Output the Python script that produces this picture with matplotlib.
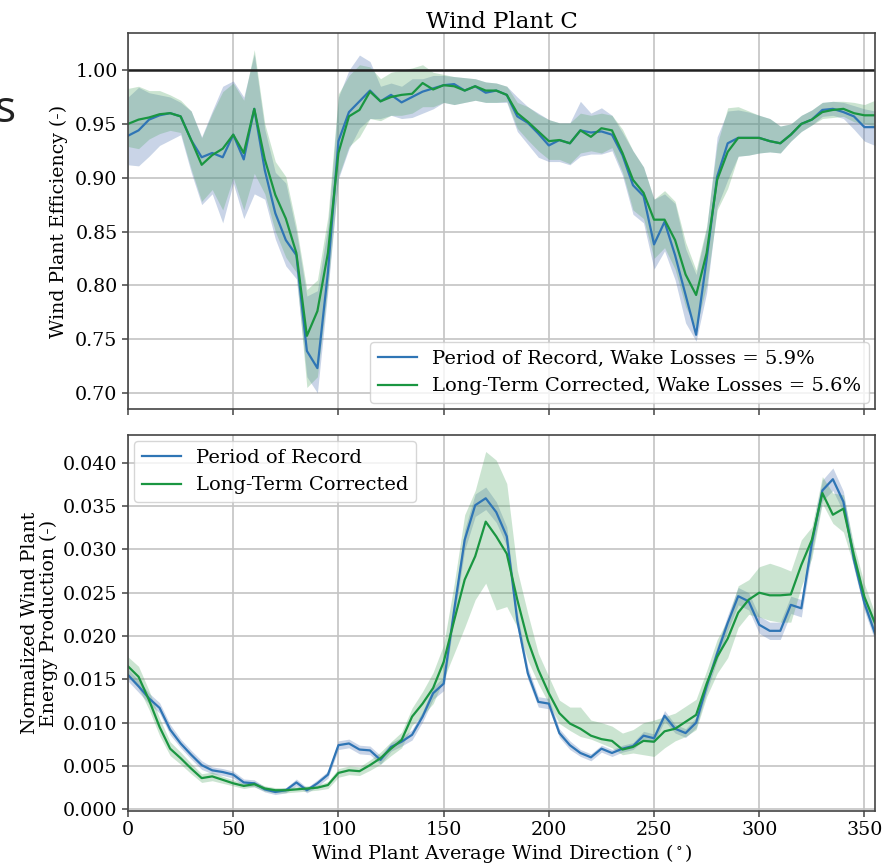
import numpy as np
import matplotlib.pyplot as plt

# %% data (5 degree bins)
wind_dir = np.arange(0, 360, 5)

# top panel: wind plant efficiency
eff_por = [0.939, 0.944, 0.954, 0.958, 0.960, 0.957, 0.935, 0.919, 0.923, 0.919,
           0.940, 0.917, 0.964, 0.907, 0.867, 0.842, 0.828, 0.739, 0.723, 0.812,
           0.934, 0.961, 0.971, 0.981, 0.971, 0.977, 0.970, 0.975, 0.980, 0.983,
           0.986, 0.987, 0.981, 0.985, 0.979, 0.981, 0.977, 0.957, 0.951, 0.941,
           0.930, 0.935, 0.932, 0.944, 0.942, 0.943, 0.940, 0.921, 0.893, 0.883,
           0.838, 0.859, 0.828, 0.791, 0.754, 0.824, 0.901, 0.932, 0.937, 0.937,
           0.937, 0.934, 0.932, 0.940, 0.950, 0.954, 0.963, 0.964, 0.961, 0.957,
           0.947, 0.947]
eff_lt = [0.950, 0.954, 0.956, 0.959, 0.960, 0.957, 0.935, 0.912, 0.921, 0.927,
          0.940, 0.923, 0.964, 0.917, 0.884, 0.862, 0.830, 0.753, 0.776, 0.830,
          0.923, 0.957, 0.963, 0.980, 0.971, 0.975, 0.977, 0.978, 0.988, 0.982,
          0.986, 0.985, 0.981, 0.985, 0.981, 0.981, 0.977, 0.960, 0.952, 0.943,
          0.934, 0.935, 0.932, 0.944, 0.938, 0.946, 0.944, 0.923, 0.898, 0.886,
          0.861, 0.861, 0.842, 0.810, 0.791, 0.830, 0.898, 0.924, 0.937, 0.937,
          0.937, 0.934, 0.932, 0.940, 0.950, 0.954, 0.961, 0.963, 0.964, 0.960,
          0.958, 0.958]
eff_por_lo = [0.912, 0.911, 0.920, 0.930, 0.935, 0.940, 0.905, 0.875, 0.885, 0.858,
              0.895, 0.862, 0.885, 0.880, 0.843, 0.818, 0.806, 0.715, 0.700, 0.795,
              0.899, 0.927, 0.946, 0.955, 0.955, 0.958, 0.955, 0.956, 0.960, 0.964,
              0.970, 0.968, 0.970, 0.972, 0.970, 0.970, 0.970, 0.943, 0.931, 0.919,
              0.915, 0.915, 0.912, 0.920, 0.922, 0.922, 0.925, 0.902, 0.866, 0.858,
              0.815, 0.832, 0.805, 0.765, 0.748, 0.793, 0.873, 0.898, 0.920, 0.921,
              0.923, 0.924, 0.923, 0.934, 0.943, 0.949, 0.957, 0.958, 0.955, 0.945,
              0.934, 0.930]
eff_por_hi = [0.975, 0.984, 0.979, 0.977, 0.975, 0.970, 0.962, 0.938, 0.962, 0.985,
              0.990, 0.975, 1.015, 0.945, 0.905, 0.895, 0.850, 0.790, 0.795, 0.855,
              0.975, 1.000, 1.014, 1.008, 0.985, 0.988, 0.985, 0.992, 0.992, 0.995,
              0.995, 0.994, 0.993, 0.992, 0.989, 0.988, 0.985, 0.975, 0.966, 0.960,
              0.954, 0.951, 0.951, 0.971, 0.960, 0.965, 0.958, 0.942, 0.925, 0.910,
              0.880, 0.885, 0.876, 0.834, 0.810, 0.853, 0.938, 0.962, 0.963, 0.961,
              0.958, 0.955, 0.948, 0.950, 0.958, 0.963, 0.970, 0.971, 0.970, 0.967,
              0.964, 0.962]
eff_lt_lo = [0.929, 0.927, 0.936, 0.941, 0.944, 0.942, 0.908, 0.878, 0.889, 0.870,
             0.900, 0.870, 0.904, 0.885, 0.850, 0.826, 0.812, 0.705, 0.715, 0.799,
             0.901, 0.929, 0.938, 0.955, 0.953, 0.958, 0.958, 0.960, 0.966, 0.966,
             0.970, 0.968, 0.970, 0.972, 0.970, 0.970, 0.971, 0.946, 0.935, 0.925,
             0.917, 0.917, 0.913, 0.923, 0.925, 0.923, 0.928, 0.905, 0.870, 0.862,
             0.825, 0.835, 0.815, 0.780, 0.760, 0.800, 0.870, 0.890, 0.920, 0.921,
             0.923, 0.924, 0.923, 0.934, 0.943, 0.949, 0.955, 0.956, 0.957, 0.952,
             0.950, 0.948]
eff_lt_hi = [0.983, 0.985, 0.981, 0.981, 0.977, 0.972, 0.962, 0.937, 0.960, 0.980,
             0.988, 0.972, 1.019, 0.950, 0.915, 0.901, 0.855, 0.796, 0.805, 0.864,
             0.978, 0.995, 1.005, 1.003, 0.992, 0.998, 1.000, 1.002, 1.005, 0.998,
             0.996, 0.994, 0.993, 0.992, 0.989, 0.988, 0.985, 0.970, 0.966, 0.959,
             0.954, 0.951, 0.951, 0.960, 0.958, 0.960, 0.958, 0.945, 0.925, 0.910,
             0.880, 0.888, 0.878, 0.840, 0.814, 0.855, 0.931, 0.965, 0.966, 0.962,
             0.958, 0.955, 0.948, 0.950, 0.958, 0.963, 0.970, 0.971, 0.971, 0.970,
             0.968, 0.972]

# bottom panel: normalized energy production
energy_por = [0.0155, 0.0142, 0.0128, 0.0117, 0.0092, 0.0076, 0.0063, 0.0051, 0.0045, 0.0043,
              0.0040, 0.0031, 0.0030, 0.0023, 0.0020, 0.0022, 0.0031, 0.0022, 0.0030, 0.0040,
              0.0074, 0.0076, 0.0069, 0.0068, 0.0057, 0.0072, 0.0078, 0.0086, 0.0107, 0.0134,
              0.0145, 0.0230, 0.0311, 0.0351, 0.0359, 0.0343, 0.0315, 0.0218, 0.0157, 0.0124,
              0.0122, 0.0088, 0.0074, 0.0065, 0.0060, 0.0070, 0.0065, 0.0070, 0.0073, 0.0085,
              0.0082, 0.0108, 0.0093, 0.0088, 0.0100, 0.0142, 0.0180, 0.0215, 0.0246, 0.0240,
              0.0213, 0.0206, 0.0206, 0.0236, 0.0232, 0.0307, 0.0368, 0.0381, 0.0355, 0.0288,
              0.0238, 0.0203]
energy_lt = [0.0165, 0.0153, 0.0126, 0.0095, 0.0070, 0.0059, 0.0047, 0.0036, 0.0038, 0.0034,
             0.0030, 0.0027, 0.0029, 0.0024, 0.0022, 0.0022, 0.0023, 0.0024, 0.0025, 0.0028,
             0.0042, 0.0045, 0.0044, 0.0051, 0.0059, 0.0070, 0.0080, 0.0107, 0.0122, 0.0140,
             0.0170, 0.0218, 0.0265, 0.0292, 0.0332, 0.0315, 0.0295, 0.0242, 0.0195, 0.0161,
             0.0134, 0.0111, 0.0099, 0.0093, 0.0085, 0.0081, 0.0079, 0.0069, 0.0072, 0.0079,
             0.0078, 0.0090, 0.0093, 0.0101, 0.0109, 0.0145, 0.0176, 0.0197, 0.0227, 0.0242,
             0.0250, 0.0247, 0.0247, 0.0248, 0.0282, 0.0311, 0.0365, 0.0340, 0.0347, 0.0293,
             0.0245, 0.0215]
energy_por_err = [0.0007, 0.0007, 0.0006, 0.0006, 0.0006, 0.0005, 0.0005, 0.0005, 0.0004, 0.0004,
                  0.0004, 0.0004, 0.0004, 0.0003, 0.0003, 0.0003, 0.0004, 0.0003, 0.0004, 0.0004,
                  0.0005, 0.0005, 0.0005, 0.0005, 0.0005, 0.0005, 0.0005, 0.0006, 0.0006, 0.0007,
                  0.0008, 0.0010, 0.0012, 0.0013, 0.0013, 0.0012, 0.0011, 0.0009, 0.0007, 0.0006,
                  0.0006, 0.0005, 0.0005, 0.0004, 0.0004, 0.0004, 0.0004, 0.0004, 0.0004, 0.0005,
                  0.0005, 0.0006, 0.0005, 0.0005, 0.0006, 0.0007, 0.0008, 0.0009, 0.0010, 0.0010,
                  0.0010, 0.0010, 0.0010, 0.0010, 0.0010, 0.0011, 0.0012, 0.0013, 0.0012, 0.0010,
                  0.0009, 0.0008]
energy_lt_lo = [0.0153, 0.0140, 0.0115, 0.0085, 0.0062, 0.0052, 0.0041, 0.0031, 0.0033, 0.0030,
                0.0027, 0.0024, 0.0026, 0.0021, 0.0019, 0.0019, 0.0020, 0.0021, 0.0022, 0.0024,
                0.0037, 0.0040, 0.0039, 0.0045, 0.0052, 0.0062, 0.0071, 0.0097, 0.0108, 0.0122,
                0.0150, 0.0180, 0.0210, 0.0242, 0.0261, 0.0230, 0.0234, 0.0210, 0.0172, 0.0145,
                0.0122, 0.0099, 0.0091, 0.0084, 0.0081, 0.0076, 0.0071, 0.0063, 0.0065, 0.0063,
                0.0061, 0.0071, 0.0079, 0.0084, 0.0092, 0.0130, 0.0157, 0.0175, 0.0210, 0.0225,
                0.0222, 0.0218, 0.0216, 0.0216, 0.0257, 0.0290, 0.0353, 0.0330, 0.0320, 0.0280,
                0.0232, 0.0200]
energy_lt_hi = [0.0176, 0.0165, 0.0137, 0.0105, 0.0078, 0.0066, 0.0053, 0.0041, 0.0043, 0.0038,
                0.0034, 0.0030, 0.0032, 0.0027, 0.0025, 0.0025, 0.0026, 0.0027, 0.0028, 0.0032,
                0.0047, 0.0050, 0.0049, 0.0057, 0.0066, 0.0078, 0.0089, 0.0117, 0.0136, 0.0158,
                0.0190, 0.0260, 0.0340, 0.0368, 0.0413, 0.0403, 0.0376, 0.0276, 0.0226, 0.0180,
                0.0153, 0.0126, 0.0118, 0.0118, 0.0103, 0.0100, 0.0096, 0.0088, 0.0092, 0.0100,
                0.0103, 0.0107, 0.0111, 0.0119, 0.0127, 0.0160, 0.0196, 0.0219, 0.0258, 0.0265,
                0.0280, 0.0284, 0.0280, 0.0275, 0.0311, 0.0326, 0.0384, 0.0365, 0.0363, 0.0305,
                0.0260, 0.0226]

# %% style
plt.rcParams['font.family'] = ['DejaVu Serif']
plt.rcParams['mathtext.fontset'] = 'dejavuserif'

blue = '#2f75b5'
green = '#1a9641'
blueFill = '#4c72b0'
greenFill = '#55a868'

def styleAx(ax):
  ax.grid(True, color='#c4c4c4', linewidth=1.2)
  ax.set_axisbelow(True)
  for s in ax.spines.values():
    s.set_color('#444444')
    s.set_linewidth(1.2)
  ax.tick_params(direction='out', length=4, width=1.1, color='#444444', labelsize=13.7)
  ax.set_xlim(0, 355)
  ax.set_xticks(np.arange(0, 351, 50))

fig = plt.figure(figsize=(8.91, 8.64), dpi=100)
axTop = fig.add_axes([0.1437, 0.5266, 0.8383, 0.4352])
axBot = fig.add_axes([0.1437, 0.0613, 0.8383, 0.4352])

# %% top panel
styleAx(axTop)
axTop.fill_between(wind_dir, eff_por_lo, eff_por_hi, color=blueFill, alpha=0.3, linewidth=0)
axTop.fill_between(wind_dir, eff_lt_lo, eff_lt_hi, color=greenFill, alpha=0.3, linewidth=0)
axTop.plot(wind_dir, eff_por, color=blue, lw=1.6, label='Period of Record, Wake Losses = 5.9%')
axTop.plot(wind_dir, eff_lt, color=green, lw=1.6, label='Long-Term Corrected, Wake Losses = 5.6%')
axTop.axhline(1.0, color='#222222', lw=1.8)
axTop.set_ylim(0.685, 1.0345)
axTop.set_yticks([0.70, 0.75, 0.80, 0.85, 0.90, 0.95, 1.00])
axTop.yaxis.set_major_formatter(plt.FormatStrFormatter('%.2f'))
axTop.set_xticklabels([])
axTop.set_ylabel('Wind Plant Efficiency (-)', fontsize=13.6, labelpad=5)
axTop.set_title('Wind Plant C', fontsize=16.5, pad=3)
axTop.legend(loc='lower right', fontsize=14, framealpha=0.8, borderaxespad=0.3, handlelength=2.0)

# %% bottom panel
styleAx(axBot)
axBot.fill_between(wind_dir, np.array(energy_por) - np.array(energy_por_err),
                   np.array(energy_por) + np.array(energy_por_err), color=blueFill, alpha=0.3, linewidth=0)
axBot.fill_between(wind_dir, energy_lt_lo, energy_lt_hi, color=greenFill, alpha=0.3, linewidth=0)
axBot.plot(wind_dir, energy_por, color=blue, lw=1.6, label='Period of Record')
axBot.plot(wind_dir, energy_lt, color=green, lw=1.6, label='Long-Term Corrected')
axBot.set_ylim(-0.0002, 0.0432)
axBot.set_yticks(np.arange(0, 0.0401, 0.005))
axBot.yaxis.set_major_formatter(plt.FormatStrFormatter('%.3f'))
axBot.set_ylabel('Normalized Wind Plant\nEnergy Production (-)', fontsize=13.6, linespacing=1.0, labelpad=4)
axBot.set_xlabel(r'Wind Plant Average Wind Direction ($^\circ$)', fontsize=13.9, labelpad=2)
axBot.legend(loc='upper left', fontsize=14, framealpha=0.8, borderaxespad=0.3, handlelength=2.0)

# stray letter cropped in from a neighbouring figure (cut at the left edge, as in the source)
fig.text(-0.006, 1 - 122 / 864, 's', fontsize=32, family='Open Sans', color='#222222')

fig.savefig('out.png', dpi=100)
